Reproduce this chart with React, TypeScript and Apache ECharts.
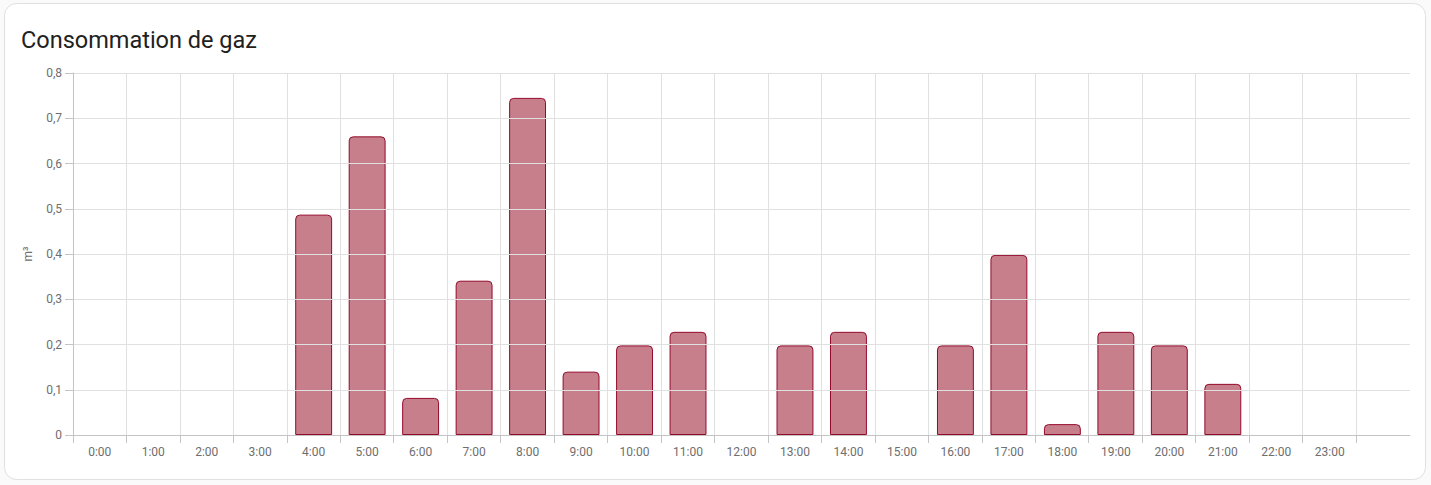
import React, { useEffect, useRef } from "react";
import * as echarts from "echarts";

const title = "Consommation de gaz";
const unit = "m³";
const hours = [
  "0:00", "1:00", "2:00", "3:00", "4:00", "5:00", "6:00", "7:00", "8:00", "9:00",
  "10:00", "11:00", "12:00", "13:00", "14:00", "15:00", "16:00", "17:00", "18:00",
  "19:00", "20:00", "21:00", "22:00", "23:00", "",
];
const gas = [
  0, 0, 0, 0, 0.487, 0.66, 0.082, 0.341, 0.745, 0.14, 0.198, 0.228, 0, 0.198,
  0.228, 0, 0.198, 0.398, 0.024, 0.228, 0.198, 0.113, 0, 0, 0,
];

export default function App() {
  const ref = useRef<HTMLDivElement>(null);
  useEffect(() => {
    if (!ref.current) return;
    const chart = echarts.init(ref.current, undefined, { renderer: "svg" });
    const labelColor = "#6e6e6e";
    const axisColor = "#c4c4c4";
    const gridColor = "#e0e0e0";
    const hourSlots = hours.slice(0, 24);
    chart.setOption({
      animation: false,
      backgroundColor: "#fafafa",
      textStyle: { fontFamily: "Roboto" },
      graphic: [
        {
          type: "rect",
          z: -10,
          silent: true,
          shape: { x: 4.5, y: 3.5, width: 1421, height: 476, r: 12 },
          style: { fill: "#ffffff", stroke: "#e0e0e0", lineWidth: 1 },
        },
      ],
      title: {
        text: title,
        left: 16,
        top: 23,
        textStyle: { fontFamily: "Roboto", fontSize: 23.5, fontWeight: 400, color: "#212121" },
      },
      grid: [
        { left: 73, right: 21, top: 73, bottom: 50 },
        { left: 73, right: 75, top: 73, bottom: 50 },
      ],
      xAxis: [
        {
          type: "category",
          gridIndex: 0,
          data: hours,
          boundaryGap: true,
          axisLine: { show: true, lineStyle: { color: axisColor } },
          axisTick: { show: false },
          axisLabel: { color: labelColor, fontSize: 12, margin: 11, fontFamily: "Roboto", interval: 0 },
          splitLine: { show: false },
          z: 3,
        },
        {
          type: "category",
          gridIndex: 1,
          data: hourSlots,
          boundaryGap: true,
          axisLine: { show: false },
          axisTick: { show: true, length: 8, lineStyle: { color: axisColor } },
          axisLabel: { show: false },
          splitLine: { show: true, lineStyle: { color: gridColor } },
        },
      ],
      yAxis: [
        {
          type: "value",
          gridIndex: 0,
          min: 0,
          max: 0.8,
          interval: 0.1,
          name: unit,
          nameLocation: "middle",
          nameGap: 39,
          nameTextStyle: { color: labelColor, fontSize: 12, fontFamily: "Roboto" },
          axisLine: { show: true, lineStyle: { color: axisColor } },
          axisTick: { show: true, length: 8, lineStyle: { color: axisColor } },
          axisLabel: {
            color: labelColor,
            fontSize: 12,
            margin: 11,
            fontFamily: "Roboto",
            formatter: (v: number) => String(Math.round(v * 10) / 10).replace(".", ","),
          },
          splitLine: { show: true, lineStyle: { color: gridColor } },
          z: 3,
        },
        { type: "value", gridIndex: 1, min: 0, max: 0.8, show: false },
      ],
      series: [
        {
          type: "bar",
          xAxisIndex: 0,
          yAxisIndex: 0,
          data: gas.map((v) => (v === 0 ? null : v)),
          barWidth: "69%",
          itemStyle: {
            color: "rgba(145, 0, 25, 0.5)",
            borderColor: "#930a2b",
            borderWidth: 1,
            borderRadius: [4, 4, 0, 0],
          },
        },
      ],
    });
    return () => chart.dispose();
  }, []);
  return (
    <div
      ref={ref}
      style={{ position: "fixed", left: 0, top: 0, width: 1431, height: 485 }}
    />
  );
}
